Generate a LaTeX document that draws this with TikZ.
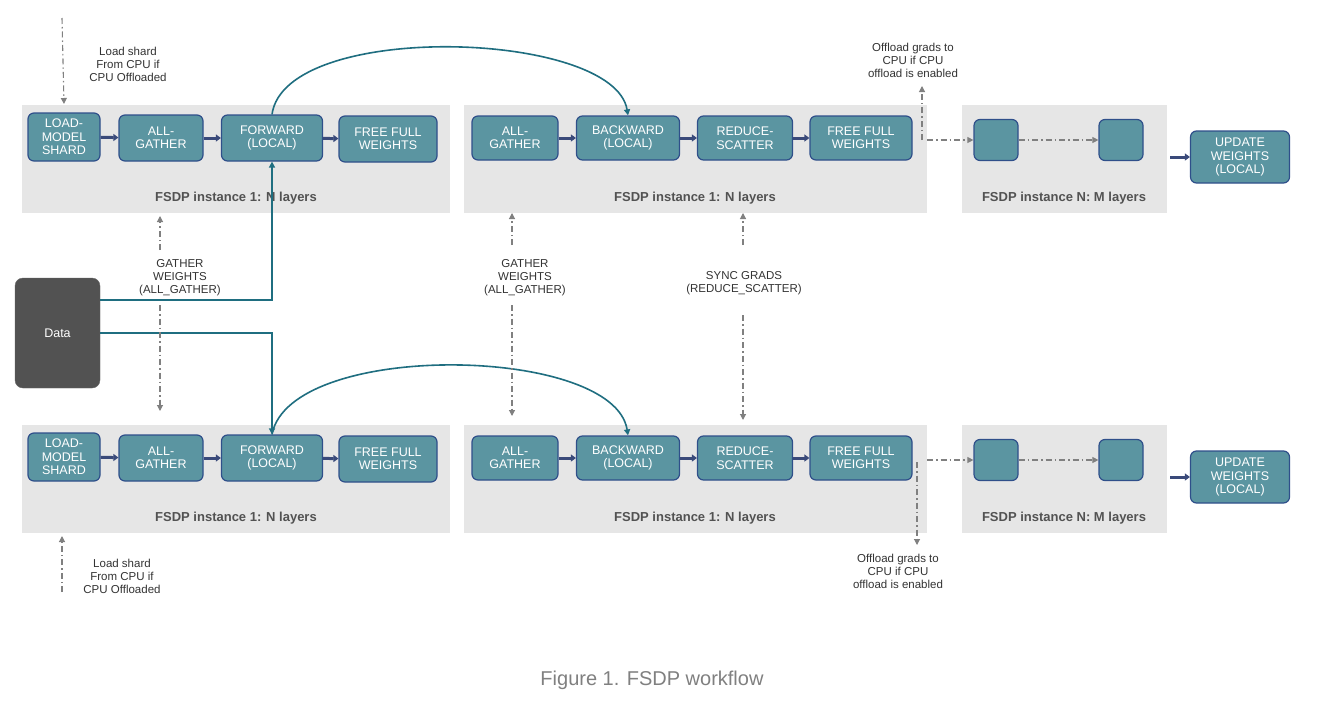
\documentclass[tikz,border=0pt]{standalone}
\usepackage{fontspec}
\setmainfont{Liberation Sans}
\usetikzlibrary{arrows.meta}
\definecolor{boxf}{HTML}{5B95A1}
\definecolor{boxd}{HTML}{2F4F8A}
\definecolor{panel}{HTML}{E6E6E6}
\definecolor{navy}{HTML}{3A4A7A}
\definecolor{teal}{HTML}{1F6E80}
\definecolor{lbl}{HTML}{333333}
\begin{document}
\begin{tikzpicture}[x=1pt,y=-1pt,
 box/.style={draw=boxd,line width=1.2pt,fill=boxf,rounded corners=6pt,text=white,align=center,font=\fontsize{12.5}{13.5}\selectfont,inner sep=0pt},
 pnl/.style={fill=panel,draw=none,inner sep=0pt},
 plbl/.style={font=\bfseries\fontsize{13}{14}\selectfont,text=lbl!85},
 lab/.style={align=center,font=\fontsize{11.5}{13}\selectfont,text=lbl},
 thick/.style={-{Triangle[length=5pt,width=7pt]},line width=3pt,draw=navy},
 dd/.style={-{Triangle[length=6pt,width=6pt]},draw=gray,line width=1.1pt,dash pattern=on 6pt off 3pt on 1.5pt off 3pt},
 tl/.style={-{Triangle[length=6pt,width=6pt]},draw=teal,line width=1.6pt}]
\useasboundingbox (0,0) rectangle (1325,704);
\fill[white] (0,0) rectangle (1325,704);
\foreach \r/\dy in {t/0,b/320}{
 \begin{scope}[yshift=-\dy]
 \node[pnl,minimum width=428,minimum height=108] (\r p1) at (236,159) {};
 \node[pnl,minimum width=463,minimum height=108] (\r p2) at (695.5,159) {};
 \node[pnl,minimum width=205,minimum height=108] (\r p3) at (1064.5,159) {};
 \node[plbl] (\r l1) at (236,198) {FSDP instance 1: N layers};
 \node[plbl] (\r l2) at (695,198) {FSDP instance 1: N layers};
 \node[plbl] (\r l3) at (1064,198) {FSDP instance N: M layers};
 \node[box,minimum width=72,minimum height=48] (\r a) at (64,137) {LOAD-\\MODEL\\SHARD};
 \node[box,minimum width=84,minimum height=46] (\r b) at (161,138) {ALL-\\GATHER};
 \node[box,minimum width=101,minimum height=46] (\r c) at (272,138) {FORWARD\\(LOCAL)};
 \node[box,minimum width=98,minimum height=46] (\r d) at (388,139) {FREE FULL\\WEIGHTS};
 \node[box,minimum width=86,minimum height=44] (\r e) at (515,138) {ALL-\\GATHER};
 \node[box,minimum width=103,minimum height=44] (\r f) at (628,138) {BACKWARD\\(LOCAL)};
 \node[box,minimum width=95,minimum height=44] (\r g) at (745,138) {REDUCE-\\SCATTER};
 \node[box,minimum width=102,minimum height=44] (\r h) at (861,138) {FREE FULL\\WEIGHTS};
 \node[box,minimum width=44,minimum height=41] (\r i) at (996,140) {};
 \node[box,minimum width=44,minimum height=41] (\r j) at (1121,140) {};
 \node[box,minimum width=99,minimum height=52] (\r k) at (1240,157) {UPDATE\\WEIGHTS\\(LOCAL)};
 \draw[thick] (\r a) -- (\r b);
 \draw[thick] (\r b) -- (\r c);
 \draw[thick] (\r c) -- (\r d);
 \draw[thick] (\r e) -- (\r f);
 \draw[thick] (\r f) -- (\r g);
 \draw[thick] (\r g) -- (\r h);
 \coordinate (\r k0) at (1170,157);
 \draw[thick] (\r k0) -- (\r k);
 \coordinate (\r h1) at (927,140);
 \draw[dd] (\r h1) -- (\r i);
 \draw[dd] (\r i) -- (\r j);
 \end{scope}}
\node[fill=black!68,draw=black!60,rounded corners=8pt,minimum width=85,minimum height=110,text=white,font=\fontsize{12.5}{14}\selectfont] (data) at (57.5,333) {Data};
\draw[tl] (data.east |- 0,300) -| (tc.south);
\draw[tl] (data.east |- 0,333) -| (bc.north);
\draw[tl] (tc.north) .. controls (285,20) and (614,30) .. (tf.north);
\draw[tl] (bc.north) .. controls (290,340) and (614,345) .. (bf.north);
% labels
\node[lab] (ls1) at (128,64) {Load shard\\From CPU if\\CPU Offloaded};
\coordinate (s1) at (62,18);
\draw[dd] (s1) -- (ta.north |- 0,104);
\node[lab] (ls2) at (122,576) {Load shard\\From CPU if\\CPU Offloaded};
\coordinate (s2) at (62,592);
\draw[dd] (s2) -- (62,536);
\node[lab] (gw1) at (180,278) {GATHER\\WEIGHTS\\(ALL\_GATHER)};
\coordinate (g1a) at (160,250); \coordinate (g1b) at (160,216);
\coordinate (g1c) at (160,305); \coordinate (g1d) at (160,411);
\draw[dd] (g1a) -- (g1b); \draw[dd] (g1c) -- (g1d);
\node[lab] (gw2) at (525,278) {GATHER\\WEIGHTS\\(ALL\_GATHER)};
\coordinate (g2a) at (512,245); \coordinate (g2b) at (512,213);
\coordinate (g2c) at (512,305); \coordinate (g2d) at (512,416);
\draw[dd] (g2a) -- (g2b); \draw[dd] (g2c) -- (g2d);
\node[lab] (sg) at (744,283) {SYNC GRADS\\(REDUCE\_SCATTER)};
\coordinate (s3a) at (743,245); \coordinate (s3b) at (743,213);
\coordinate (s3c) at (743,315); \coordinate (s3d) at (743,420);
\draw[dd] (s3a) -- (s3b); \draw[dd] (s3c) -- (s3d);
\node[lab] (og1) at (913,60) {Offload grads to\\CPU if CPU\\offload is enabled};
\coordinate (o1a) at (922,140); \coordinate (o1b) at (922,86);
\draw[dd] (o1a) -- (o1b);
\node[lab] (og2) at (898,571) {Offload grads to\\CPU if CPU\\offload is enabled};
\coordinate (o2a) at (917,462); \coordinate (o2b) at (917,545);
\draw[dd] (o2a) -- (o2b);
\node[text=gray,font=\fontsize{20}{22}\selectfont] (cap) at (652,680) {Figure 1. FSDP workflow};
\end{tikzpicture}
\end{document}
